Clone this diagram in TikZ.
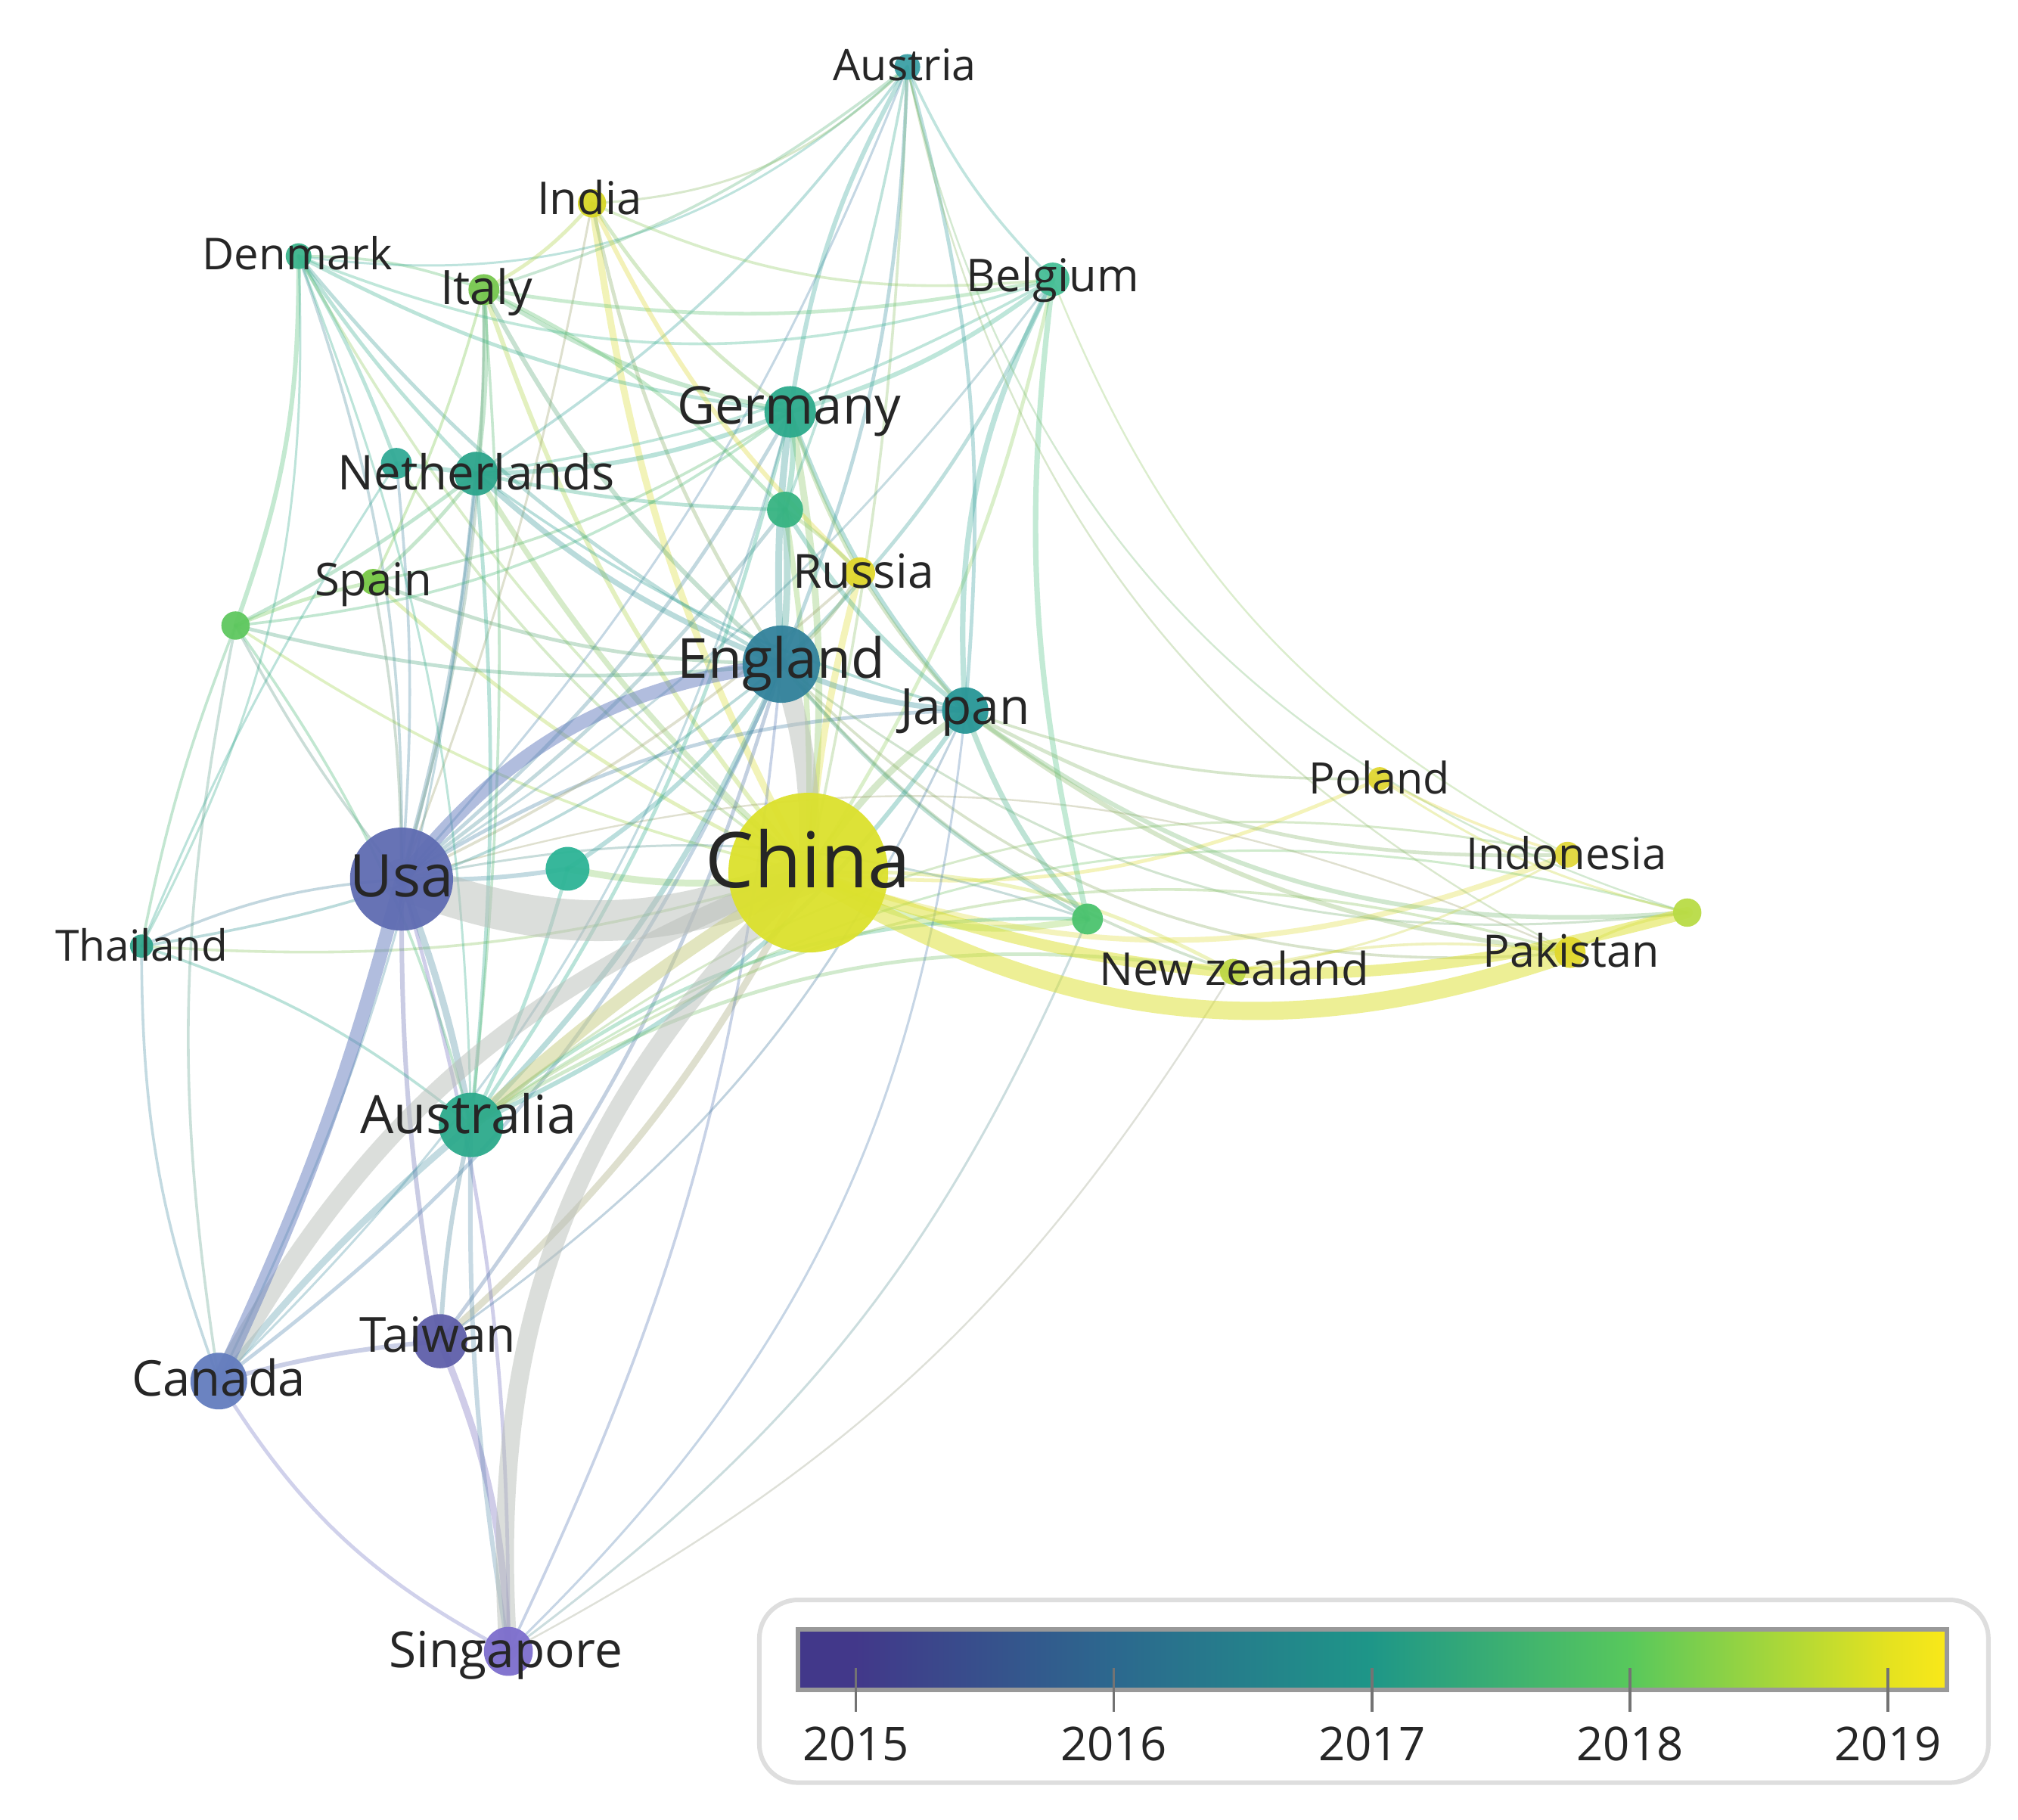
\documentclass[tikz,border=0pt]{standalone}
\usepackage{fontspec}
\setmainfont{Open Sans}
\usetikzlibrary{positioning}
\definecolor{labelColor}{RGB}{38,38,38}
\definecolor{bandGray}{RGB}{185,190,185}
\definecolor{frameGray}{RGB}{222,222,222}
\definecolor{vir15}{RGB}{66,56,138}
\definecolor{vir16}{RGB}{44,104,142}
\definecolor{vir17}{RGB}{30,150,136}
\definecolor{vir18}{RGB}{88,200,92}
\definecolor{vir19}{RGB}{228,226,32}
\definecolor{virEnd}{RGB}{250,232,25}
\definecolor{caut}{RGB}{60,160,165}
\definecolor{cind}{RGB}{215,215,40}
\definecolor{cden}{RGB}{60,180,140}
\definecolor{cita}{RGB}{120,200,80}
\definecolor{cbel}{RGB}{70,190,150}
\definecolor{cger}{RGB}{45,170,140}
\definecolor{cnet}{RGB}{45,165,140}
\definecolor{cnta}{RGB}{50,170,150}
\definecolor{cnga}{RGB}{55,180,130}
\definecolor{crus}{RGB}{225,215,45}
\definecolor{cspa}{RGB}{120,200,70}
\definecolor{cngb}{RGB}{95,200,95}
\definecolor{ceng}{RGB}{50,130,155}
\definecolor{cjap}{RGB}{40,150,150}
\definecolor{cpol}{RGB}{225,215,50}
\definecolor{cido}{RGB}{225,215,60}
\definecolor{cngc}{RGB}{185,220,70}
\definecolor{cpak}{RGB}{225,215,45}
\definecolor{cnze}{RGB}{190,215,70}
\definecolor{cngd}{RGB}{75,195,110}
\definecolor{cchn}{RGB}{220,225,45}
\definecolor{cnge}{RGB}{45,180,150}
\definecolor{cusa}{RGB}{95,108,178}
\definecolor{ctha}{RGB}{50,165,140}
\definecolor{caus}{RGB}{45,170,140}
\definecolor{ctwn}{RGB}{95,95,170}
\definecolor{ccan}{RGB}{100,125,190}
\definecolor{csgp}{RGB}{125,110,205}
\pgfdeclarehorizontalshading{viridisBar}{100bp}{color(0bp)=(vir15); color(27.5bp)=(vir15); color(38.7bp)=(vir16); color(49.9bp)=(vir17); color(61.2bp)=(vir18); color(72.4bp)=(vir19); color(75bp)=(virEnd); color(100bp)=(virEnd)}
\tikzstyle{network} = [x = 0.01cm, y = -0.01cm]
\tikzstyle{linkLine} = [line cap=round, opacity=.33]
\tikzstyle{bandLine} = [line cap=round, opacity=.5]
\tikzstyle{countryDot} = [circle, inner sep=0pt, opacity=.95]
\tikzstyle{countryText} = [text=labelColor, inner sep=0pt, text height=.72em, text depth=0pt]
\tikzstyle{legendFrame} = [draw=frameGray, line width=1pt, fill=white, rounded corners=.3cm]
\tikzstyle{barFrame} = [draw=gray!80, line width=1pt]
\tikzstyle{tickLine} = [draw=gray!90!black, line width=.6pt]
\tikzstyle{yearText} = [text=labelColor, inner sep=0pt, font=\fontsize{10.3}{10.3}\selectfont, text height=.72em, text depth=0pt]
\newcommand{\coLink}[4]{\draw [linkLine, draw=c#1!50!c#2, line width=#3pt] (#1) to[bend left=#4] (#2);}
\newcommand{\drawCountry}[2]{\node [countryDot, fill=c#1, minimum size=#2*0.02cm] (#1-dot) at (#1) {};}
\newcommand{\labelCountry}[5]{\node [countryText, font=\fontsize{#4}{#4}\selectfont] (#1-label) at (#2,#3) {#5};}

\begin{document}
\begin{tikzpicture}[network]
  \useasboundingbox (0,0) rectangle (1568,1414);
  \fill [white] (0,0) rectangle (1568,1414);
  \foreach \n/\x/\y in {aut/705/52, ind/460/158, den/232/199, ita/376/225, bel/818/217, ger/614/320,
    net/370/368, nta/308/360, nga/610/396, rus/668/445, spa/290/452, ngb/183/486, eng/607/516,
    jap/750/552, pol/1072/605, ido/1218/664, ngc/1311/709, pak/1220/740, nze/958/755, ngd/845/714,
    chn/628/678, nge/441/675, usa/312/683, tha/110/735, aus/366/874, twn/342/1042, can/170/1073, sgp/395/1283}
    \coordinate (\n) at (\x,\y);

  \foreach \a/\b/\w/\bd in {chn/ger/1.5/-8, chn/jap/1.5/10, chn/rus/1.5/5, chn/ind/1.5/10, chn/ita/1/10,
    chn/net/1.2/8, chn/den/0.6/10, chn/bel/0.8/-10, chn/aut/0.6/-5, chn/spa/0.8/8, chn/ngb/0.6/10,
    chn/tha/0.6/10, chn/ngd/1.5/-20, chn/nge/1.5/10, chn/nga/1.2/-5, chn/pol/0.8/-15, chn/ido/1.2/-20,
    chn/nze/0.8/15, chn/twn/1.5/10, chn/nta/0.6/10}
    {\coLink{\a}{\b}{\w}{\bd}}
  \foreach \a/\b/\w/\bd in {usa/aus/1.5/5, usa/twn/1/-5, usa/sgp/0.8/8, usa/ger/0.8/-10, usa/net/1/-5,
    usa/den/0.6/-10, usa/ita/0.6/-8, usa/spa/0.6/-5, usa/ngb/0.6/5, usa/tha/0.6/-10, usa/jap/0.8/15,
    usa/nge/1/-5, usa/aut/0.5/-10, usa/bel/0.5/-10, usa/nga/0.8/-8, usa/rus/0.6/-8, usa/ind/0.5/-5,
    usa/nta/0.6/-5, usa/pak/0.4/20, usa/ngd/0.5/15}
    {\coLink{\a}{\b}{\w}{\bd}}
  \foreach \a/\b/\w/\bd in {eng/aus/1.2/10, eng/ger/1.5/5, eng/net/1.2/10, eng/nga/1.5/-5, eng/jap/1.2/-10,
    eng/can/0.8/15, eng/twn/0.8/10, eng/den/0.8/10, eng/ita/1/10, eng/bel/0.8/-10, eng/aut/0.8/-10,
    eng/spa/0.8/10, eng/ngb/0.8/10, eng/tha/0.6/15, eng/ngd/0.8/-10, eng/rus/0.8/-10, eng/nze/0.6/-15,
    eng/pak/0.6/-25, eng/sgp/0.6/10, eng/nge/1/10, eng/ind/0.8/10, eng/ngc/0.5/-22}
    {\coLink{\a}{\b}{\w}{\bd}}
  \foreach \a/\b/\w/\bd in {aus/can/1.5/-5, aus/twn/1/-5, aus/sgp/1/-5, aus/ger/0.8/-10, aus/net/0.8/-5,
    aus/jap/1/-15, aus/ngd/0.8/20, aus/pak/0.6/25, aus/nze/0.8/20, aus/tha/0.6/-10, aus/ngb/0.6/-10,
    aus/ita/0.6/-5, aus/den/0.5/-10, aus/ido/0.5/25, aus/ngc/0.5/25, aus/nge/0.8/-5}
    {\coLink{\a}{\b}{\w}{\bd}}
  \foreach \a/\b/\w/\bd in {ger/net/1/10, ger/aut/1/10, ger/bel/1/-10, ger/ita/1/10, ger/den/0.8/10,
    ger/nga/1.2/10, ger/jap/1/-10, ger/spa/0.6/10, ger/ngb/0.6/15, ger/can/0.5/15, ger/rus/0.8/-5,
    ger/ind/0.8/10, net/den/0.8/5, net/ita/1.2/-5, net/spa/0.8/5, net/ngb/0.8/5, net/bel/0.6/-10,
    net/aut/0.6/-10, net/nta/1/0, net/can/0.5/10, net/jap/0.6/-10, net/nga/0.8/-5}
    {\coLink{\a}{\b}{\w}{\bd}}
  \foreach \a/\b/\w/\bd in {den/ngb/1/10, den/ita/0.6/10, den/nta/0.8/5, den/bel/0.6/-20, den/aut/0.5/-25,
    den/tha/0.5/15, ita/bel/0.8/-10, ita/aut/0.6/-10, ita/ind/0.8/-10, ita/spa/0.6/5, ita/nga/0.8/10,
    bel/jap/1.2/-15, bel/ngd/1.2/-10, bel/aut/0.6/10, aut/jap/0.8/10, aut/nga/0.6/5, aut/ngc/0.4/-30,
    aut/pak/0.4/-25, bel/ido/0.4/-20, ind/rus/1/-10, ind/bel/0.6/-15, ind/aut/0.5/-20, jap/ngd/1.2/-10,
    jap/pak/1/-15, jap/ido/0.8/-15, jap/ngc/1/-20, jap/pol/0.6/-10, jap/nga/1/10, jap/rus/0.8/5,
    nze/pak/0.6/10, nze/ido/0.5/-10, ngc/pak/0.6/-10, pol/ido/0.6/-5, pol/ngc/0.5/-10, nga/rus/0.8/5}
    {\coLink{\a}{\b}{\w}{\bd}}
  \foreach \a/\b/\w/\bd in {can/twn/1/5, can/sgp/0.8/-15, twn/sgp/1.5/10, can/tha/0.6/10, tha/ngb/0.6/5,
    ngb/spa/0.8/5, can/ngb/0.6/10, sgp/jap/0.5/-20, sgp/ngd/0.5/-15, sgp/nze/0.4/-15, twn/jap/0.5/-15,
    tha/nta/0.5/5}
    {\coLink{\a}{\b}{\w}{\bd}}

  \draw [bandLine, draw=bandGray, line width=9pt] (usa) to[bend right=22] (chn);
  \draw [bandLine, draw=bandGray, line width=4.5pt] (eng) to[bend left=10] (chn);
  \draw [bandLine, draw=bandGray!60!cchn, line width=3pt] (aus) to[bend left=5] (chn);
  \draw [bandLine, draw=bandGray, line width=4pt] (can) to[bend left=20] (chn);
  \draw [bandLine, draw=bandGray, line width=4pt] (sgp) to[bend left=25] (chn);
  \draw [bandLine, draw=ccan, line width=3pt] (usa) to[bend left=22] (eng);
  \draw [bandLine, draw=ccan, line width=3pt] (usa) to[bend left=5] (can);
  \draw [bandLine, draw=cchn, line width=4pt] (chn) to[bend right=25] (pak);
  \draw [bandLine, draw=cchn, line width=2.5pt] (chn) to[bend right=18] (ngc);

  \foreach \n/\r in {chn/62, usa/40, eng/30, aus/25, ger/20, twn/21, can/22, sgp/19, net/17, jap/18,
    nge/17, nga/14, aut/10, bel/13, den/10, ita/12, ind/11, rus/12, spa/10, ngb/11, pol/9, ido/10,
    pak/12, ngc/11, nze/10, ngd/12, tha/9, nta/12}
    {\drawCountry{\n}{\r}}

  \labelCountry{aut}{703}{50}{9.6}{Austria}
  \labelCountry{ind}{458}{154}{10}{India}
  \labelCountry{den}{231}{197}{9.7}{Denmark}
  \labelCountry{ita}{378}{224}{10.5}{Italy}
  \labelCountry{bel}{818}{214}{10}{Belgium}
  \labelCountry{ger}{613}{317}{11.5}{Germany}
  \labelCountry{net}{370}{368}{10.6}{Netherlands}
  \labelCountry{rus}{671}{444}{10.4}{Russia}
  \labelCountry{spa}{290}{450}{10}{Spain}
  \labelCountry{eng}{607}{514}{12.2}{England}
  \labelCountry{jap}{750}{550}{11}{Japan}
  \labelCountry{pol}{1072}{604}{9.6}{Poland}
  \labelCountry{ido}{1217}{663}{9.7}{Indonesia}
  \labelCountry{pak}{1221}{739}{9.9}{Pakistan}
  \labelCountry{nze}{959}{753}{10}{New zealand}
  \labelCountry{chn}{628}{677}{17}{China}
  \labelCountry{usa}{312}{684}{13}{Usa}
  \labelCountry{tha}{110}{734}{9.5}{Thailand}
  \labelCountry{aus}{364}{868}{11.7}{Australia}
  \labelCountry{twn}{340}{1038}{10.7}{Taiwan}
  \labelCountry{can}{170}{1072}{10.9}{Canada}
  \labelCountry{sgp}{393}{1283}{11}{Singapore}

  \draw [legendFrame] (590,1243) rectangle (1545,1385);
  \shade [shading=viridisBar] (620,1266) rectangle (1513,1313);
  \draw [barFrame] (620,1266) rectangle (1513,1313);
  \foreach \yr [count=\i from 0] in {2015,...,2019} {
    \draw [tickLine] ({665+200.5*\i},1296) -- ({665+200.5*\i},1330);
    \node [yearText] (year\yr) at ({665+200.5*\i},1355) {\yr};
  }
\end{tikzpicture}
\end{document}
